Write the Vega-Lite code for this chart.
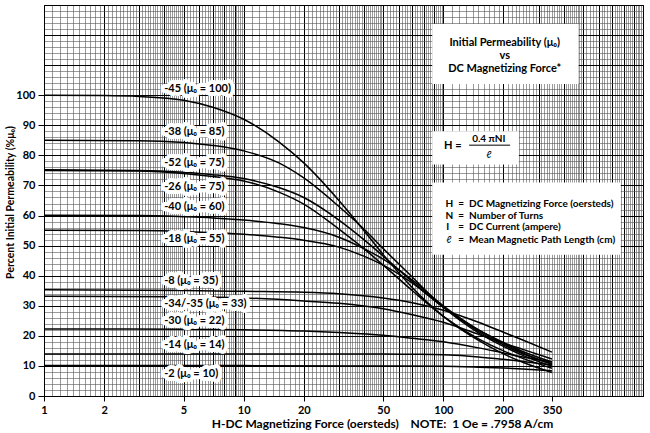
{
  "$schema": "https://vega.github.io/schema/vega-lite/v6.json",
  "width": 599,
  "height": 391,
  "autosize": {"type": "none"},
  "padding": {"left": 44, "top": 5, "right": 7, "bottom": 37},
  "background": "white",
  "config": {"font": "Lato", "view": {"stroke": "black", "strokeWidth": 1}},
  "datasets": {
    "curves": [
      {"m":"-45","h":1,"p":100},{"m":"-45","h":2,"p":99.9},{"m":"-45","h":3,"p":99.6},{"m":"-45","h":5,"p":98.3},{"m":"-45","h":7,"p":96},{"m":"-45","h":10,"p":92},{"m":"-45","h":15,"p":84.5},{"m":"-45","h":20,"p":77.5},{"m":"-45","h":30,"p":65},{"m":"-45","h":40,"p":55},{"m":"-45","h":50,"p":47},{"m":"-45","h":70,"p":36},{"m":"-45","h":100,"p":26.5},{"m":"-45","h":150,"p":18.5},{"m":"-45","h":200,"p":14},{"m":"-45","h":250,"p":11.2},{"m":"-45","h":350,"p":7.8},
      {"m":"-38","h":1,"p":85},{"m":"-38","h":3,"p":84.9},{"m":"-38","h":5,"p":84.3},{"m":"-38","h":7,"p":83.3},{"m":"-38","h":10,"p":81.5},{"m":"-38","h":15,"p":77.5},{"m":"-38","h":20,"p":72.5},{"m":"-38","h":30,"p":63},{"m":"-38","h":40,"p":55.5},{"m":"-38","h":50,"p":49},{"m":"-38","h":70,"p":39.5},{"m":"-38","h":100,"p":29.5},{"m":"-38","h":150,"p":21},{"m":"-38","h":200,"p":16.5},{"m":"-38","h":250,"p":13.5},{"m":"-38","h":350,"p":9.9},
      {"m":"-52","h":1,"p":75.2},{"m":"-52","h":3,"p":75},{"m":"-52","h":5,"p":74.4},{"m":"-52","h":7,"p":73.6},{"m":"-52","h":10,"p":72.3},{"m":"-52","h":15,"p":69.3},{"m":"-52","h":20,"p":66},{"m":"-52","h":30,"p":58.5},{"m":"-52","h":40,"p":52},{"m":"-52","h":50,"p":46.5},{"m":"-52","h":70,"p":38},{"m":"-52","h":100,"p":29.5},{"m":"-52","h":150,"p":21.5},{"m":"-52","h":200,"p":17},{"m":"-52","h":250,"p":14},{"m":"-52","h":350,"p":10.8},
      {"m":"-26","h":1,"p":75},{"m":"-26","h":3,"p":74.8},{"m":"-26","h":5,"p":74},{"m":"-26","h":7,"p":73},{"m":"-26","h":10,"p":71.5},{"m":"-26","h":15,"p":67.8},{"m":"-26","h":20,"p":63.8},{"m":"-26","h":30,"p":55.5},{"m":"-26","h":40,"p":49},{"m":"-26","h":50,"p":43.5},{"m":"-26","h":70,"p":35},{"m":"-26","h":100,"p":26.5},{"m":"-26","h":150,"p":19},{"m":"-26","h":200,"p":15},{"m":"-26","h":250,"p":12.5},{"m":"-26","h":350,"p":9.2},
      {"m":"-40","h":1,"p":60.1},{"m":"-40","h":3,"p":60},{"m":"-40","h":5,"p":59.6},{"m":"-40","h":7,"p":59.2},{"m":"-40","h":10,"p":58.5},{"m":"-40","h":15,"p":57.3},{"m":"-40","h":20,"p":56},{"m":"-40","h":30,"p":52.8},{"m":"-40","h":40,"p":49},{"m":"-40","h":50,"p":45.5},{"m":"-40","h":70,"p":38.5},{"m":"-40","h":100,"p":30},{"m":"-40","h":150,"p":22},{"m":"-40","h":200,"p":17.5},{"m":"-40","h":250,"p":14.3},{"m":"-40","h":350,"p":10.5},
      {"m":"-18","h":1,"p":55.1},{"m":"-18","h":3,"p":55},{"m":"-18","h":5,"p":54.7},{"m":"-18","h":7,"p":54.3},{"m":"-18","h":10,"p":53.8},{"m":"-18","h":15,"p":52.8},{"m":"-18","h":20,"p":51.8},{"m":"-18","h":30,"p":49.5},{"m":"-18","h":40,"p":46.5},{"m":"-18","h":50,"p":43.5},{"m":"-18","h":70,"p":37.5},{"m":"-18","h":100,"p":29.5},{"m":"-18","h":150,"p":22},{"m":"-18","h":200,"p":17.8},{"m":"-18","h":250,"p":14.8},{"m":"-18","h":350,"p":11.3},
      {"m":"-8","h":1,"p":35.3},{"m":"-8","h":5,"p":35.1},{"m":"-8","h":10,"p":34.8},{"m":"-8","h":20,"p":34.5},{"m":"-8","h":30,"p":34},{"m":"-8","h":50,"p":32.6},{"m":"-8","h":70,"p":31},{"m":"-8","h":100,"p":28.5},{"m":"-8","h":150,"p":24.5},{"m":"-8","h":200,"p":21.2},{"m":"-8","h":250,"p":18.6},{"m":"-8","h":350,"p":14.6},
      {"m":"-34/-35","h":1,"p":33.2},{"m":"-34/-35","h":5,"p":33},{"m":"-34/-35","h":10,"p":32.6},{"m":"-34/-35","h":20,"p":31.6},{"m":"-34/-35","h":30,"p":30.8},{"m":"-34/-35","h":50,"p":29},{"m":"-34/-35","h":70,"p":27},{"m":"-34/-35","h":100,"p":24.5},{"m":"-34/-35","h":150,"p":20.5},{"m":"-34/-35","h":200,"p":17.6},{"m":"-34/-35","h":250,"p":15.5},{"m":"-34/-35","h":350,"p":12.3},
      {"m":"-30","h":1,"p":22.3},{"m":"-30","h":5,"p":22.2},{"m":"-30","h":10,"p":22},{"m":"-30","h":20,"p":21.6},{"m":"-30","h":30,"p":21.1},{"m":"-30","h":50,"p":20.2},{"m":"-30","h":70,"p":19.2},{"m":"-30","h":100,"p":18},{"m":"-30","h":150,"p":16},{"m":"-30","h":200,"p":14.3},{"m":"-30","h":250,"p":13},{"m":"-30","h":350,"p":11.3},
      {"m":"-14","h":1,"p":14},{"m":"-14","h":10,"p":14},{"m":"-14","h":30,"p":14},{"m":"-14","h":50,"p":14},{"m":"-14","h":70,"p":13.9},{"m":"-14","h":100,"p":13.7},{"m":"-14","h":150,"p":13},{"m":"-14","h":200,"p":12.2},{"m":"-14","h":250,"p":11.5},{"m":"-14","h":350,"p":10.3},
      {"m":"-2","h":1,"p":10.1},{"m":"-2","h":10,"p":10.1},{"m":"-2","h":50,"p":10},{"m":"-2","h":100,"p":9.9},{"m":"-2","h":150,"p":9.6},{"m":"-2","h":200,"p":9.3},{"m":"-2","h":250,"p":9},{"m":"-2","h":350,"p":8.4}
    ],
    "boxes": [
      {"b":"title","h":88,"h2":476,"p":103.7,"p2":123.7},
      {"b":"formula","h":88,"h2":239,"p":77,"p2":88},
      {"b":"legend","h":88,"h2":774,"p":47,"p2":71}
    ],
    "rules": [
      {"h":134.6,"h2":216,"p":83.4}
    ],
    "notes": [
      {"k":"lab","h":4,"p":102.2,"t":"-45 (μ₀ = 100)"},
      {"k":"lab","h":4,"p":87.8,"t":"-38 (μ₀ = 85)"},
      {"k":"lab","h":4,"p":77.6,"t":"-52 (μ₀ = 75)"},
      {"k":"lab","h":4,"p":69.6,"t":"-26 (μ₀ = 75)"},
      {"k":"lab","h":4,"p":62.9,"t":"-40 (μ₀ = 60)"},
      {"k":"lab","h":4,"p":52.2,"t":"-18 (μ₀ = 55)"},
      {"k":"lab","h":4,"p":38.3,"t":"-8 (μ₀ = 35)"},
      {"k":"lab","h":4,"p":30.6,"t":"-34/-35 (μ₀ = 33)"},
      {"k":"lab","h":4,"p":25,"t":"-30 (μ₀ = 22)"},
      {"k":"lab","h":4,"p":17,"t":"-14 (μ₀ = 14)"},
      {"k":"lab","h":4,"p":7.2,"t":"-2 (μ₀ = 10)"},
      {"k":"ttl","h":203,"p":117.4,"t":"Initial Permeability (μ₀)"},
      {"k":"ttl","h":203,"p":113,"t":"vs"},
      {"k":"ttl","h":203,"p":108.6,"t":"DC Magnetizing Force*"},
      {"k":"frm","h":100.8,"p":83,"t":"H ="},
      {"k":"frc","h":169,"p":85.4,"t":"0.4 πNI"},
      {"k":"fri","h":169,"p":80.2,"t":"ℓ"},
      {"k":"leg","h":102.6,"p":63.9,"t":"H"},
      {"k":"leg","h":102.6,"p":59.9,"t":"N"},
      {"k":"leg","h":103.5,"p":56.2,"t":"I"},
      {"k":"legi","h":103.5,"p":51.9,"t":"ℓ"},
      {"k":"leg","h":118.8,"p":63.9,"t":"="},
      {"k":"leg","h":118.8,"p":59.9,"t":"="},
      {"k":"leg","h":118.8,"p":56.2,"t":"="},
      {"k":"leg","h":118.8,"p":51.9,"t":"="},
      {"k":"leg","h":134.5,"p":63.9,"t":"DC Magnetizing Force (oersteds)"},
      {"k":"leg","h":134.5,"p":59.9,"t":"Number of Turns"},
      {"k":"leg","h":134.5,"p":56.2,"t":"DC Current (ampere)"},
      {"k":"leg","h":134.5,"p":51.9,"t":"Mean Magnetic Path Length (cm)"}
    ]
  },
  "encoding": {
    "x": {
      "field": "h",
      "type": "quantitative",
      "scale": {"type": "log", "domain": [1, 1000], "nice": false},
      "axis": {
        "title": "H-DC Magnetizing Force (oersteds)\u00a0\u00a0\u00a0\u00a0NOTE:\u00a0\u00a01 Oe = .7958 A/cm",
        "values": [1,1.1,1.2,1.3,1.4,1.5,1.6,1.7,1.8,1.9,2,2.1,2.2,2.3,2.4,2.5,2.6,2.7,2.8,2.9,3,3.1,3.2,3.3,3.4,3.5,3.6,3.7,3.8,3.9,4,4.1,4.2,4.3,4.4,4.5,4.6,4.7,4.8,4.9,5,5.2,5.4,5.6,5.8,6,6.2,6.4,6.6,6.8,7,7.2,7.4,7.6,7.8,8,8.2,8.4,8.6,8.8,9,9.2,9.4,9.6,9.8,10,11,12,13,14,15,16,17,18,19,20,21,22,23,24,25,26,27,28,29,30,31,32,33,34,35,36,37,38,39,40,41,42,43,44,45,46,47,48,49,50,52,54,56,58,60,62,64,66,68,70,72,74,76,78,80,82,84,86,88,90,92,94,96,98,100,110,120,130,140,150,160,170,180,190,200,210,220,230,240,250,260,270,280,290,300,310,320,330,340,350,360,370,380,390,400,410,420,430,440,450,460,470,480,490,500,520,540,560,580,600,620,640,660,680,700,720,740,760,780,800,820,840,860,880,900,920,940,960,980,1000],
        "labelExpr": "indexof([1,2,5,10,20,50,100,200,350], datum.value) >= 0 ? format(datum.value, 'd') : ''",
        "labelOverlap": false,
        "labelFlush": false,
        "labelBound": false,
        "labelFont": "Lato",
        "labelFontSize": 11,
        "labelFontWeight": "bold",
        "labelColor": "#000",
        "labelPadding": 3,
        "ticks": true,
        "tickSize": 5,
        "tickColor": "#000",
        "tickOpacity": {"condition": {"test": "indexof([1,2,5,10,20,50,100,200,350], datum.value) >= 0", "value": 1}, "value": 0},
        "grid": true,
        "gridColor": {"condition": {"test": "indexof([1,2,3,4,5,6,7,8,9,10,20,30,40,50,60,70,80,90,100,200,300,400,500,600,700,800,900,1000], datum.value) >= 0", "value": "#000"}, "value": "#555"},
        "gridWidth": {"condition": {"test": "indexof([1,2,3,4,5,6,7,8,9,10,20,30,40,50,60,70,80,90,100,200,300,400,500,600,700,800,900,1000], datum.value) >= 0", "value": 1}, "value": 0.6},
        "domain": true,
        "domainColor": "#000",
        "titleFont": "Lato",
        "titleFontSize": 12,
        "titleFontWeight": "bold",
        "titleColor": "#000",
        "titleAlign": "center",
        "titleX": 338,
        "titleY": 31,
        "titleBaseline": "alphabetic"
      }
    },
    "y": {
      "field": "p",
      "type": "quantitative",
      "scale": {"domain": [0, 130], "nice": false, "zero": false},
      "axis": {
        "title": "Percent Initial Permeability (%μ₀)",
        "values": [0,2,4,6,8,10,12,14,16,18,20,22,24,26,28,30,32,34,36,38,40,42,44,46,48,50,52,54,56,58,60,62,64,66,68,70,72,74,76,78,80,82,84,86,88,90,92,94,96,98,100,102,104,106,108,110,112,114,116,118,120,122,124,126,128,130],
        "labelExpr": "datum.value % 10 === 0 && datum.value <= 100 ? datum.label : ''",
        "labelOverlap": false,
        "labelFlush": false,
        "labelBound": false,
        "labelFont": "Lato",
        "labelFontSize": 11,
        "labelFontWeight": "bold",
        "labelColor": "#000",
        "labelPadding": 3,
        "ticks": true,
        "tickSize": 6,
        "tickColor": "#000",
        "tickOpacity": {"condition": {"test": "datum.value % 10 === 0 && datum.value <= 100", "value": 1}, "value": 0},
        "grid": true,
        "gridColor": {"condition": {"test": "datum.value % 10 === 0", "value": "#000"}, "value": "#555"},
        "gridWidth": {"condition": {"test": "datum.value % 10 === 0", "value": 1.1}, "value": 0.6},
        "domain": true,
        "domainColor": "#000",
        "titleFont": "Lato",
        "titleFontSize": 10.5,
        "titleFontWeight": "bold",
        "titleColor": "#000",
        "titleAlign": "center",
        "titleBaseline": "middle",
        "titleAngle": -90,
        "titleX": -34,
        "titleY": 197
      }
    }
  },
  "layer": [
    {
      "data": {"name": "boxes"},
      "mark": {"type": "rect", "fill": "white", "stroke": null},
      "encoding": {"x2": {"field": "h2"}, "y2": {"field": "p2"}}
    },
    {
      "data": {"name": "rules"},
      "mark": {"type": "rule", "color": "#000", "strokeWidth": 1},
      "encoding": {"x2": {"field": "h2"}}
    },
    {
      "data": {"name": "curves"},
      "mark": {"type": "line", "color": "#000", "strokeWidth": 1.5, "interpolate": "monotone"},
      "encoding": {"detail": {"field": "m"}}
    },
    {
      "data": {"name": "notes"},
      "transform": [{"filter": "datum.k === 'lab'"}],
      "mark": {"type": "text", "align": "left", "baseline": "middle", "font": "Lato", "fontSize": 11, "fontWeight": "bold", "fill": "white", "stroke": "white", "strokeWidth": 8, "strokeJoin": "round"},
      "encoding": {"text": {"field": "t"}}
    },
    {
      "data": {"name": "notes"},
      "transform": [{"filter": "datum.k === 'lab'"}],
      "mark": {"type": "text", "align": "left", "baseline": "middle", "font": "Lato", "fontSize": 11, "fontWeight": "bold", "color": "#000"},
      "encoding": {"text": {"field": "t"}}
    },
    {
      "data": {"name": "notes"},
      "transform": [{"filter": "datum.k === 'ttl'"}],
      "mark": {"type": "text", "align": "center", "baseline": "middle", "font": "Lato", "fontSize": 11, "fontWeight": "bold", "color": "#000"},
      "encoding": {"text": {"field": "t"}}
    },
    {
      "data": {"name": "notes"},
      "transform": [{"filter": "datum.k === 'frm'"}],
      "mark": {"type": "text", "align": "left", "baseline": "middle", "font": "Lato", "fontSize": 11, "fontWeight": "bold", "color": "#000"},
      "encoding": {"text": {"field": "t"}}
    },
    {
      "data": {"name": "notes"},
      "transform": [{"filter": "datum.k === 'frc'"}],
      "mark": {"type": "text", "align": "center", "baseline": "middle", "font": "Lato", "fontSize": 10, "fontWeight": "bold", "color": "#000"},
      "encoding": {"text": {"field": "t"}}
    },
    {
      "data": {"name": "notes"},
      "transform": [{"filter": "datum.k === 'fri'"}],
      "mark": {"type": "text", "align": "center", "baseline": "middle", "font": "Lato", "fontSize": 10, "fontStyle": "italic", "color": "#000"},
      "encoding": {"text": {"field": "t"}}
    },
    {
      "data": {"name": "notes"},
      "transform": [{"filter": "datum.k === 'leg'"}],
      "mark": {"type": "text", "align": "left", "baseline": "middle", "font": "Lato", "fontSize": 10, "fontWeight": "bold", "color": "#000"},
      "encoding": {"text": {"field": "t"}}
    },
    {
      "data": {"name": "notes"},
      "transform": [{"filter": "datum.k === 'legi'"}],
      "mark": {"type": "text", "align": "left", "baseline": "middle", "font": "Lato", "fontSize": 10, "fontStyle": "italic", "color": "#000"},
      "encoding": {"text": {"field": "t"}}
    }
  ]
}
